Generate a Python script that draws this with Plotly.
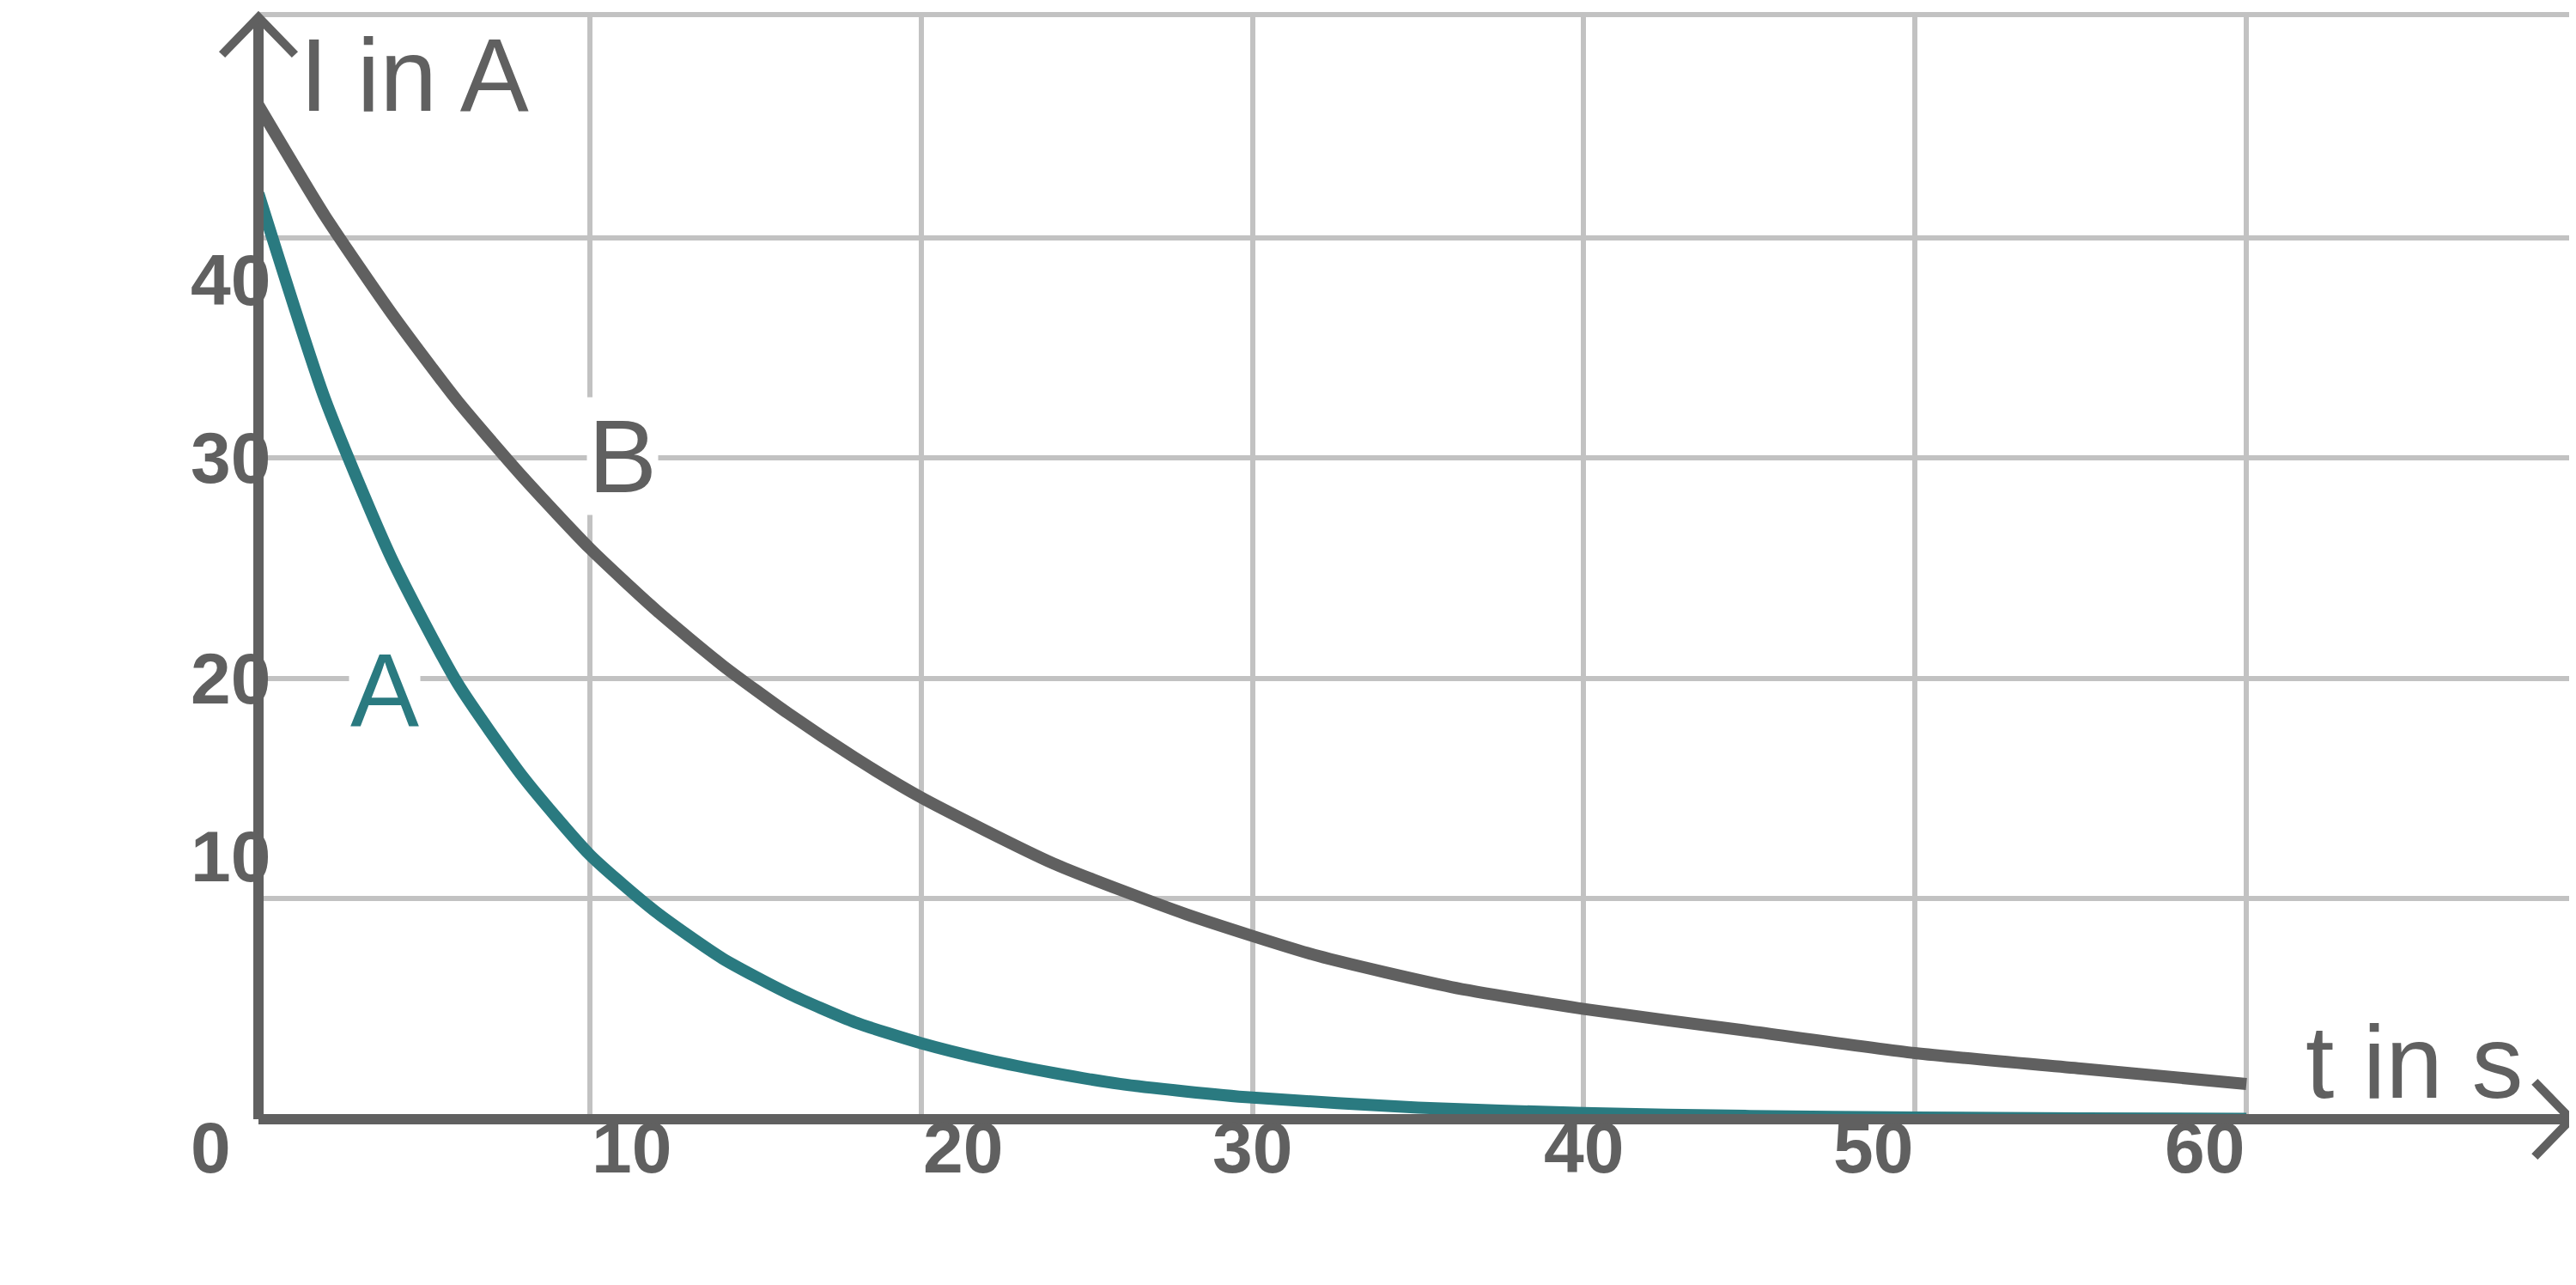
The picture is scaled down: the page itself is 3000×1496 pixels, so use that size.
import plotly.graph_objects as go

t_a = [0, 2, 4, 6, 8, 10, 12, 14, 16, 18, 20, 22, 24, 26, 28, 30, 35, 40, 45, 50, 55, 60]
i_a = [42, 32.7, 25.5, 19.8, 15.5, 12.0, 9.4, 7.3, 5.7, 4.4, 3.45, 2.7, 2.1, 1.6, 1.26, 0.98, 0.53, 0.28, 0.15, 0.08, 0.04, 0.02]
t_b = [0, 2, 4, 6, 8, 10, 12, 14, 16, 18, 20, 24, 28, 32, 36, 40, 45, 50, 55, 60]
i_b = [46, 41.0, 36.6, 32.6, 29.1, 25.9, 23.1, 20.6, 18.4, 16.4, 14.6, 11.6, 9.3, 7.4, 6.0, 5.0, 4.0, 3.0, 2.3, 1.6]
x_ticks = [0, 10, 20, 30, 40, 50, 60]
y_ticks = [10, 20, 30, 40]

GREY = "#606060"
TEAL = "#2a7a80"
GRID = "#c2c2c2"
XMAX, YMAX = 70, 50

fig = go.Figure()
fig.add_trace(go.Scatter(x=t_b, y=i_b, mode="lines", line=dict(color=GREY, width=14, shape="spline", smoothing=0.6), cliponaxis=False))
fig.add_trace(go.Scatter(x=t_a, y=i_a, mode="lines", line=dict(color=TEAL, width=14, shape="spline", smoothing=0.6), cliponaxis=False))

# Achsen mit Pfeilen (paper-Koordinaten, damit nichts abgeschnitten wird)
px_ = lambda t: t / XMAX
py_ = lambda v: v / YMAX
shapes = [
    dict(type="line", xref="paper", yref="paper", x0=0, x1=0, y0=0, y1=1, line=dict(color=GREY, width=12)),
    dict(type="line", xref="paper", yref="paper", x0=0, x1=px_(69.8), y0=0, y1=0, line=dict(color=GREY, width=12)),
    dict(type="path", xref="paper", yref="paper",
         path=f"M {px_(-1.1)},{py_(48.3)} L 0,1 L {px_(1.1)},{py_(48.3)}", line=dict(color=GREY, width=10)),
    dict(type="path", xref="paper", yref="paper",
         path=f"M {px_(68.7)},{py_(1.7)} L {px_(69.8)},0 L {px_(68.7)},{py_(-1.7)}", line=dict(color=GREY, width=10)),
]
fig.update_layout(shapes=shapes)

tick_font = dict(family="Liberation Sans", size=84, color=GREY, weight="bold")
ann = []
for v in x_ticks:
    ann.append(dict(x=px_(v - 2.1 if v == 0 else v), y=py_(-3.2), text=str(v), showarrow=False,
                    font=tick_font, xref="paper", yref="paper"))
for v in y_ticks:
    ann.append(dict(x=px_(-2.1), y=py_(v), text=str(v), showarrow=False, font=tick_font, xref="paper", yref="paper"))
lab_font = dict(family="Liberation Sans", size=120, color=GREY)
ann.append(dict(x=1.2, y=47.4, text="I in A", showarrow=False, xanchor="left", font=lab_font))
ann.append(dict(x=68.4, y=2.6, text="t in s", showarrow=False, xanchor="right", font=lab_font))
ann.append(dict(x=11.0, y=30.1, text="B", showarrow=False, font=lab_font, bgcolor="white"))
ann.append(dict(x=3.8, y=19.5, text="A", showarrow=False, font=dict(family="Liberation Sans", size=120, color=TEAL), bgcolor="white"))
fig.update_layout(annotations=ann)

fig.update_xaxes(range=[0, XMAX], dtick=10, showgrid=True, gridcolor=GRID, gridwidth=6,
                 showticklabels=False, zeroline=False, showline=True, mirror=True, linecolor=GRID, linewidth=6)
fig.update_yaxes(range=[0, YMAX], tickvals=y_ticks + [50], showgrid=True, gridcolor=GRID, gridwidth=6,
                 showticklabels=False, zeroline=False)

fig.update_layout(width=3000, height=1496, margin=dict(l=293, r=6, t=6, b=201),
                  plot_bgcolor="white", paper_bgcolor="white", showlegend=False)

fig.write_html("out.html")
